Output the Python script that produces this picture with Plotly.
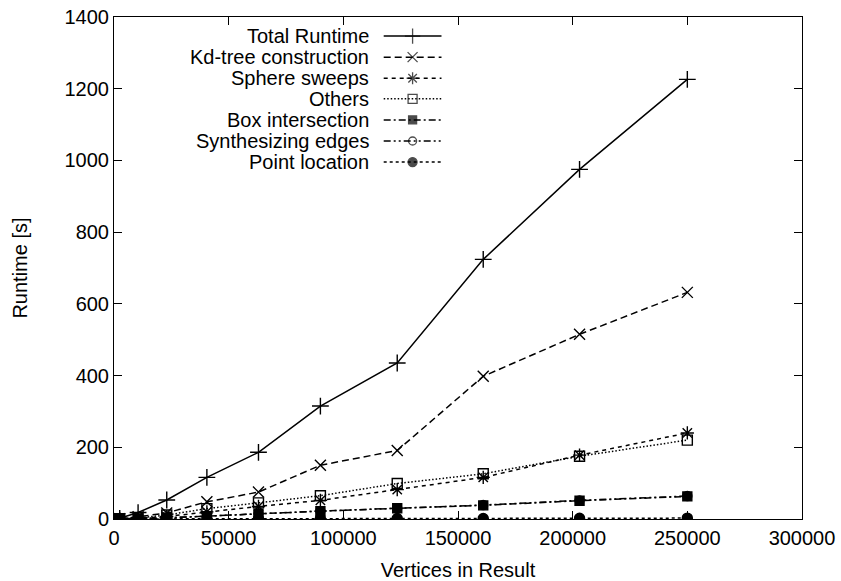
import plotly.graph_objects as go

# ---- data ----
vertices = [2500, 10500, 23000, 40500, 63000, 90000, 123500, 161000, 203000, 250000]
total_runtime = [2, 18, 53, 116, 186, 315, 435, 724, 975, 1226]
kd_tree = [1, 6, 17, 48, 75, 150, 191, 398, 515, 632]
sphere_sweeps = [0.5, 2, 7, 20, 35, 52, 82, 116, 178, 240]
others = [0.5, 3, 11, 29, 45, 65, 99, 126, 175, 220]
box_intersection = [0.2, 1, 3, 8, 15, 22, 30, 38, 51, 63]
synth_edges = [0.2, 1, 3, 8, 15, 22, 30, 39, 52, 64]
point_location = [0.1, 0.2, 0.3, 0.5, 0.7, 1, 1.2, 1.5, 2, 2.5]

x_ticks = [0, 50000, 100000, 150000, 200000, 250000, 300000]
y_ticks = [0, 200, 400, 600, 800, 1000, 1200, 1400]

series = [
    ("Total Runtime", total_runtime, "solid", "cross-thin-open", 12),
    ("Kd-tree construction", kd_tree, "7px,4px", "x-thin-open", 11),
    ("Sphere sweeps", sphere_sweeps, "4px,4px", "asterisk-open", 11),
    ("Others", others, "1.5px,2px", "square-open", 10),
    ("Box intersection", box_intersection, "7px,3px,2px,3px", "square", 9),
    ("Synthesizing edges", synth_edges, "7px,3px,2px,3px,2px,3px", "circle-open", 9),
    ("Point location", point_location, "3px,3px", "circle", 10),
]

FONT = "Liberation Sans, Arial, sans-serif"
fig = go.Figure()

for name, ys, dash, sym, size in series:
    fig.add_trace(go.Scatter(
        x=vertices, y=ys, mode="lines+markers", name=name,
        line=dict(color="black", width=1.5, dash=dash),
        marker=dict(symbol=sym, size=size, color="black",
                    line=dict(color="black", width=1.4)),
        showlegend=False,
    ))

# ---- gnuplot-style key (text right, sample to the right) ----
key_text_x = 0.373
key_line_x0, key_line_x1 = 0.392, 0.476
key_rows = [0.962, 0.920, 0.878, 0.837, 0.795, 0.753, 0.711]
annotations = []
for (name, ys, dash, sym, size), ky in zip(series, key_rows):
    fig.add_trace(go.Scatter(
        x=[key_line_x0, (key_line_x0 + key_line_x1) / 2, key_line_x1],
        y=[ky, ky, ky], xaxis="x2", yaxis="y2", mode="lines+markers",
        line=dict(color="black", width=1.5, dash=dash),
        marker=dict(symbol=sym, size=[0, size - 1, 0], color="black",
                    line=dict(color="black", width=1.3)),
        showlegend=False, hoverinfo="skip",
    ))
    annotations.append(dict(
        x=key_text_x, y=ky, xref="paper", yref="paper", text=name,
        showarrow=False, xanchor="right", yanchor="middle",
        font=dict(family=FONT, size=20, color="black"),
    ))

axis_common = dict(
    showline=True, linecolor="black", linewidth=1, mirror="ticks",
    ticks="inside", ticklen=8, tickcolor="black", tickwidth=1,
    showgrid=False, zeroline=False, automargin=False,
    tickfont=dict(family=FONT, size=20, color="black"),
)

fig.update_layout(
    width=841, height=581,
    margin=dict(l=114, r=39, t=17, b=62),
    paper_bgcolor="white", plot_bgcolor="white",
    font=dict(family=FONT, size=20, color="black"),
    showlegend=False,
    xaxis=dict(range=[0, 300000], tickvals=x_ticks,
               ticktext=[str(v) for v in x_ticks],
               ticklabelstandoff=1,
               title=dict(text="Vertices in Result", standoff=14,
                          font=dict(family=FONT, size=20)),
               **axis_common),
    yaxis=dict(range=[0, 1400], tickvals=y_ticks,
               ticktext=[str(v) for v in y_ticks],
               title=dict(text="Runtime [s]", standoff=31,
                          font=dict(family=FONT, size=20)),
               **axis_common),
    xaxis2=dict(range=[0, 1], overlaying="x", visible=False, fixedrange=True),
    yaxis2=dict(range=[0, 1], overlaying="y", visible=False, fixedrange=True),
    annotations=annotations,
)

# remove the default 8px body margin so the figure sits at the page origin
fig.write_html(
    "out.html",
    config={"displayModeBar": False},
    post_script="document.body.style.margin='0';document.body.style.overflow='hidden';",
)
